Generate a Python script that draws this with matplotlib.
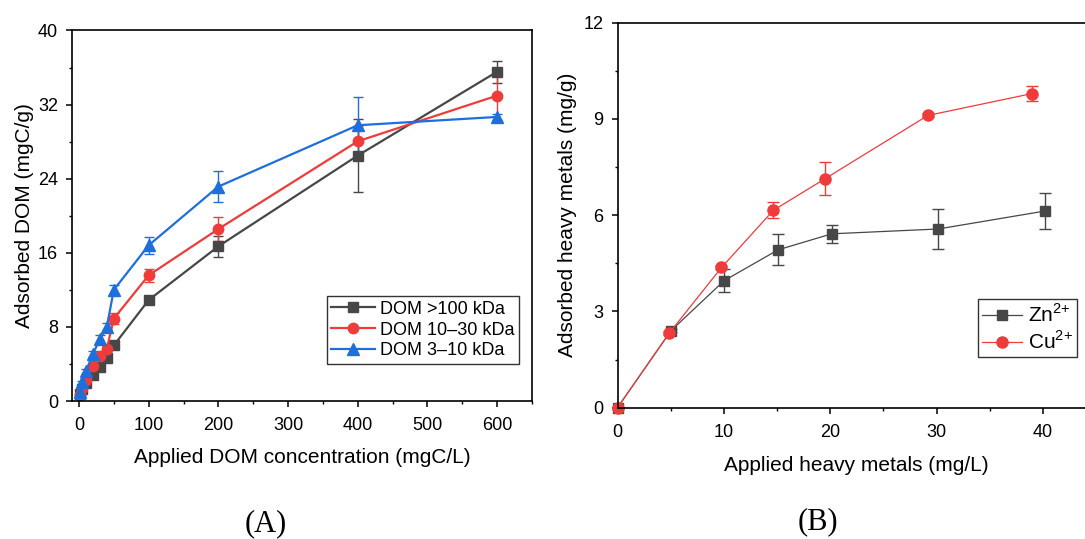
import matplotlib
matplotlib.use("Agg")
import matplotlib.pyplot as plt
from matplotlib.ticker import MultipleLocator

plt.rcParams['font.family'] = ['Liberation Sans', 'DejaVu Sans']
plt.rcParams['mathtext.fontset'] = 'custom'
plt.rcParams['mathtext.rm'] = 'Liberation Sans'

# ---- Panel A data ----
dom_conc = [2, 5, 10, 20, 30, 40, 50, 100, 200, 400, 600]
dom_gt100 = [0.8, 1.3, 1.9, 2.8, 3.7, 4.6, 6.0, 10.9, 16.7, 26.5, 35.55]
dom_gt100_err = [0.1, 0.1, 0.1, 0.15, 0.15, 0.2, 0.2, 0.25, 1.1, 3.9, 1.2]
dom_10_30 = [0.7, 1.4, 2.3, 3.8, 4.9, 5.65, 8.9, 13.57, 18.57, 28.04, 32.97]
dom_10_30_err = [0.1, 0.1, 0.15, 0.2, 0.2, 0.25, 0.55, 0.7, 1.3, 1.6, 2.9]
dom_3_10 = [1.0, 2.0, 3.2, 5.1, 6.66, 8.03, 12.0, 16.81, 23.15, 29.77, 30.67]
dom_3_10_err = [0.15, 0.2, 0.3, 0.35, 0.5, 0.4, 0.5, 0.9, 1.65, 3.0, 0.3]
labels_A = ['DOM >100 kDa', 'DOM 10\u201330 kDa', 'DOM 3\u201310 kDa']

# ---- Panel B data ----
zn_x = [0, 5.03, 10.03, 15.1, 20.15, 30.15, 40.2]
zn_y = [0, 2.40, 3.96, 4.92, 5.42, 5.57, 6.13]
zn_err = [0, 0.05, 0.35, 0.48, 0.29, 0.63, 0.56]
cu_x = [0, 4.88, 9.78, 14.65, 19.53, 29.2, 38.97]
cu_y = [0, 2.33, 4.37, 6.15, 7.14, 9.11, 9.79]
cu_err = [0, 0.05, 0.06, 0.25, 0.52, 0.06, 0.23]
labels_B = ['Zn$^{2{+}}$', 'Cu$^{2{+}}$']

C_BLACK = '#474747'
C_RED = '#f03b3b'
C_BLUE = '#1e6fdc'
TICK_FS = 13
LABEL_FS = 15

W, H = 1085, 539
fig = plt.figure(figsize=(W / 100, H / 100), dpi=100)

def px_axes(l, r, t, b):
    return fig.add_axes([l / W, 1 - b / H, (r - l) / W, (b - t) / H])

def style(ax):
    for s in ax.spines.values():
        s.set_linewidth(1.2)
    ax.tick_params(which='major', direction='out', length=4.5, width=1.1,
                   labelsize=TICK_FS)
    ax.tick_params(axis='x', which='major', pad=7)
    ax.tick_params(axis='y', which='major', pad=5.5)
    ax.tick_params(which='minor', direction='out', length=2.5, width=1.0)

# ---- Panel A ----
axA = px_axes(72, 532, 30.5, 401)
series_A = [
    (dom_gt100, dom_gt100_err, C_BLACK, 's', 6.5),
    (dom_10_30, dom_10_30_err, C_RED, 'o', 7.5),
    (dom_3_10, dom_3_10_err, C_BLUE, '^', 8),
]
handlesA = []
for (vals, errs, col, mk, ms), lab in zip(series_A, labels_A):
    c = axA.errorbar(dom_conc, vals, yerr=errs, color=col, marker=mk, ms=ms,
                     lw=1.6, elinewidth=1.0, capsize=3.5, capthick=1.0,
                     ecolor=col, label=lab, clip_on=False)
    handlesA.append(c[0])
axA.set_xlim(-10, 650)
axA.set_ylim(0, 40)
axA.xaxis.set_major_locator(MultipleLocator(100))
axA.xaxis.set_minor_locator(MultipleLocator(50))
axA.yaxis.set_major_locator(MultipleLocator(8))
axA.yaxis.set_minor_locator(MultipleLocator(4))
style(axA)
axA.set_xlabel('Applied DOM concentration (mgC/L)', fontsize=LABEL_FS, labelpad=10)
axA.set_ylabel('Adsorbed DOM (mgC/g)', fontsize=LABEL_FS, labelpad=3)
legA = axA.legend(handlesA, labels_A, loc='lower right',
                  bbox_to_anchor=((519 - 72) / 460, (401 - 364) / 370.5),
                  fontsize=13, frameon=True, fancybox=False, edgecolor='black',
                  handlelength=2.4, handletextpad=0.3, borderpad=0.25,
                  labelspacing=0.22, borderaxespad=0)
legA.get_frame().set_linewidth(1.0)

# ---- Panel B ----
axB = px_axes(617.5, 1096, 22.7, 407.7)
cz = axB.errorbar(zn_x, zn_y, yerr=zn_err, color=C_BLACK, marker='s', ms=7,
                  lw=0.9, elinewidth=1.0, capsize=4, capthick=1.0,
                  label=labels_B[0], clip_on=False)
cc = axB.errorbar(cu_x, cu_y, yerr=cu_err, color=C_RED, marker='o', ms=8,
                  lw=0.9, elinewidth=1.0, capsize=4, capthick=1.0,
                  label=labels_B[1], clip_on=False)
axB.set_xlim(0, 45)
axB.set_ylim(0, 12)
axB.xaxis.set_major_locator(MultipleLocator(10))
axB.xaxis.set_minor_locator(MultipleLocator(5))
axB.yaxis.set_major_locator(MultipleLocator(3))
axB.yaxis.set_minor_locator(MultipleLocator(1.5))
style(axB)
axB.spines['right'].set_visible(False)
axB.set_xlabel('Applied heavy metals (mg/L)', fontsize=LABEL_FS, labelpad=11)
axB.set_ylabel('Adsorbed heavy metals (mg/g)', fontsize=LABEL_FS, labelpad=5)
legB = axB.legend([cz[0], cc[0]], labels_B, loc='lower left',
                  bbox_to_anchor=((978 - 617.5) / (1096 - 617.5), (407.7 - 357) / 385),
                  fontsize=15, frameon=True, fancybox=False, edgecolor='black',
                  handlelength=1.9, handletextpad=0.3, borderpad=0.2,
                  labelspacing=0.2, borderaxespad=0)
legB.get_frame().set_linewidth(1.0)

fig.text(266 / W, 1 - 524 / H, '(A)', fontsize=22, family='Liberation Serif',
         ha='center', va='center')
fig.text(818 / W, 1 - 522 / H, '(B)', fontsize=22, family='Liberation Serif',
         ha='center', va='center')

fig.savefig('out.png', dpi=100)
